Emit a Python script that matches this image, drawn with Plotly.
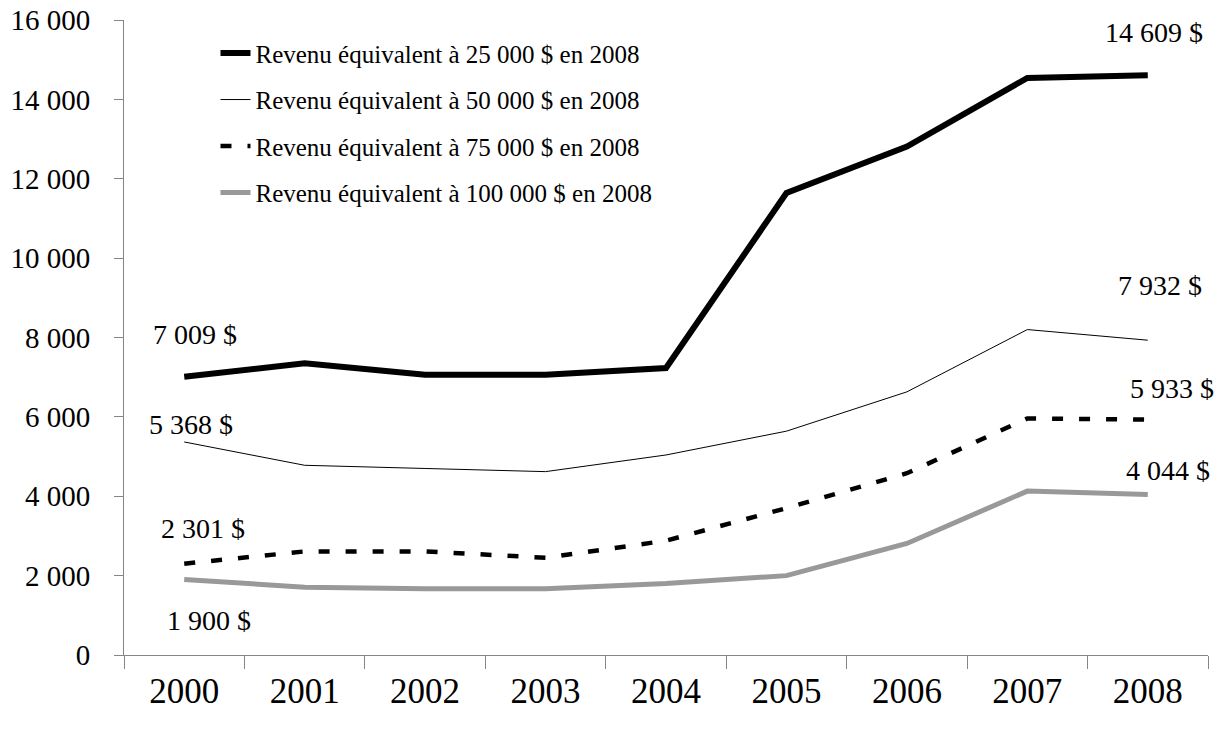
import plotly.graph_objects as go

years = ["2000", "2001", "2002", "2003", "2004", "2005", "2006", "2007", "2008"]

s25 = [7009, 7350, 7060, 7060, 7230, 11640, 12810, 14540, 14609]
s50 = [5368, 4780, 4700, 4620, 5040, 5640, 6630, 8200, 7932]
s75 = [2301, 2610, 2610, 2450, 2880, 3700, 4580, 5960, 5933]
s100 = [1900, 1710, 1670, 1670, 1800, 2000, 2810, 4130, 4044]

names = [
    "Revenu équivalent à 25 000 $ en 2008",
    "Revenu équivalent à 50 000 $ en 2008",
    "Revenu équivalent à 75 000 $ en 2008",
    "Revenu équivalent à 100 000 $ en 2008",
]

FONT = "Liberation Serif, Times New Roman, serif"
AXIS_COLOR = "#868686"

fig = go.Figure()
styles = [
    dict(color="black", width=6),
    dict(color="black", width=1),
    dict(color="black", width=4.5, dash="11px,16px"),
    dict(color="#999999", width=5),
]
series = [s25, s50, s75, s100]
for i, (vals, nm, st) in enumerate(zip(series, names, styles)):
    fig.add_trace(go.Scatter(x=years, y=vals, mode="lines", name=nm, line=st,
                             legendgroup=f"g{i}", hoverinfo="skip"))

def fmt(v):
    return f"{v:,}".replace(",", " ") + " $"

# label offsets (pixels): (xshift, yshift)
start_off = [(11, 42), (7, 17), (19, 35), (25, -41)]
end_off = [(6, 43), (12, 55), (24, 31), (20, 24)]
first_idx, last_idx = 0, len(years) - 1
for vals, so, eo in zip(series, start_off, end_off):
    fig.add_annotation(x=first_idx, y=vals[0], text=fmt(vals[0]), showarrow=False,
                       xshift=so[0], yshift=so[1], font=dict(family=FONT, size=28, color="black"))
    fig.add_annotation(x=last_idx, y=vals[-1], text=fmt(vals[-1]), showarrow=False,
                       xshift=eo[0], yshift=eo[1], font=dict(family=FONT, size=28, color="black"))

fig.update_layout(
    width=1220, height=734,
    margin=dict(l=123.5, r=12, t=20, b=79.4),
    paper_bgcolor="white", plot_bgcolor="white",
    separators=", ",
    font=dict(family=FONT, color="black"),
    showlegend=True,
    legend=dict(x=0.0844, y=0.9838, xanchor="left", yanchor="top",
                font=dict(family=FONT, size=25, color="black"),
                bgcolor="rgba(0,0,0,0)", traceorder="grouped", tracegroupgap=11,
                itemwidth=30),
    xaxis=dict(type="category", range=[-0.5, len(years) - 0.5], showgrid=False, showline=True,
               linecolor=AXIS_COLOR, linewidth=1, automargin=False,
               ticks="outside", tickson="boundaries", ticklen=13, tickcolor=AXIS_COLOR,
               tickfont=dict(family=FONT, size=35, color="black"), ticklabelstandoff=5,
               ticklabeloverflow="allow", zeroline=False),
    yaxis=dict(range=[0, 16000], dtick=2000, tickformat=",d", showgrid=False, showline=True,
               linecolor=AXIS_COLOR, linewidth=1, ticks="outside", ticklen=9, tickcolor=AXIS_COLOR,
               automargin=False, ticklabeloverflow="allow",
               tickfont=dict(family=FONT, size=29, color="black"), ticklabelstandoff=18,
               zeroline=False),
)

fig.write_html("out.html", config={"displayModeBar": False},
               post_script="document.body.style.margin='0';")
